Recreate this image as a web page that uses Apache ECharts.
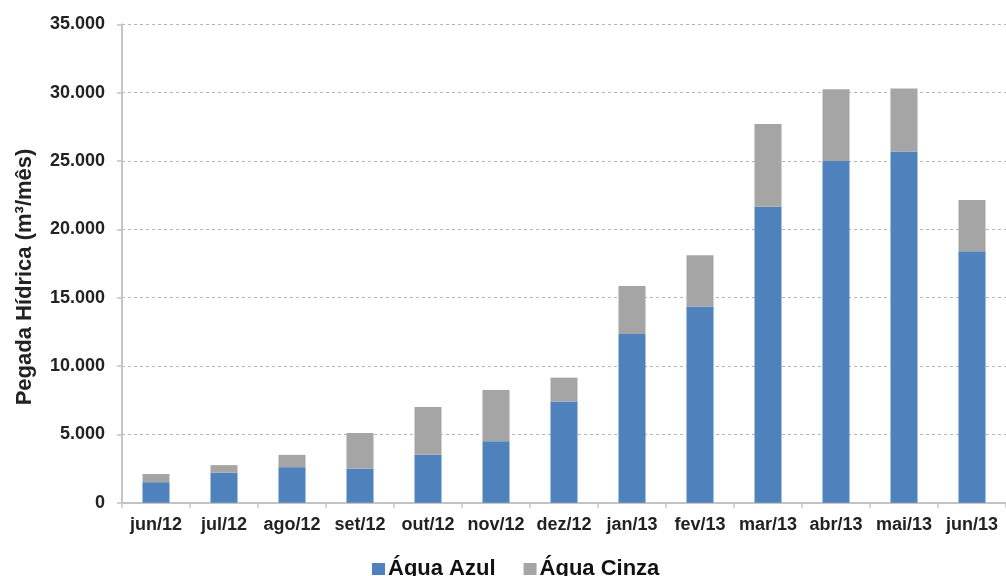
<!DOCTYPE html>
<html>
<head>
<meta charset="utf-8">
<script src="https://cdn.jsdelivr.net/npm/echarts@6/dist/echarts.min.js"></script>
<style>
  html, body { margin: 0; padding: 0; background: #ffffff; }
  #chart { width: 1006px; height: 576px; }
</style>
</head>
<body>
<div id="chart"></div>
<script>
// Monthly water footprint, June 2012 to June 2013 (m³/month)
const months = ['jun/12', 'jul/12', 'ago/12', 'set/12', 'out/12', 'nov/12', 'dez/12',
                'jan/13', 'fev/13', 'mar/13', 'abr/13', 'mai/13', 'jun/13'];
const aguaAzul  = [1500, 2200, 2600, 2500, 3500, 4500, 7400, 12350, 14350, 21650, 25000, 25700, 18400];
const aguaCinza = [600, 550, 900, 2600, 3500, 3750, 1750, 3500, 3750, 6050, 5250, 4600, 3750];
const seriesNames = ['Água Azul', 'Água Cinza'];
const yTitle = 'Pegada Hídrica (m³/mês)';

const FONT = '"Liberation Sans", Arial, sans-serif';
const TEXT = '#222222';

function thousands(v) {
  return String(v).replace(/\B(?=(\d{3})+(?!\d))/g, '.');
}

const chart = echarts.init(document.getElementById('chart'), null, { renderer: 'canvas' });

chart.setOption({
  backgroundColor: '#ffffff',
  animation: false,
  textStyle: { fontFamily: FONT },
  grid: { left: 122, right: -3, top: 24.3, bottom: 73.3, containLabel: false },
  legend: {
    data: seriesNames,
    left: 367,
    top: 553,
    itemWidth: 13,
    itemHeight: 12,
    itemGap: 28,
    icon: 'rect',
    textStyle: { fontFamily: FONT, fontSize: 22, fontWeight: 'bold', color: '#111111', padding: [0, 0, 0, -2] }
  },
  xAxis: {
    type: 'category',
    data: months,
    axisLine: { show: true, lineStyle: { color: '#c4c4c4', width: 2 } },
    axisTick: { show: true, alignWithLabel: false, length: 5, lineStyle: { color: '#c4c4c4', width: 1.5 } },
    axisLabel: { fontFamily: FONT, fontSize: 18, fontWeight: 'bold', color: TEXT, margin: 13, interval: 0 },
    splitLine: { show: false }
  },
  yAxis: {
    type: 'value',
    min: 0,
    max: 35000,
    interval: 5000,
    name: yTitle,
    nameLocation: 'middle',
    nameRotate: 90,
    nameGap: 86,
    nameTextStyle: { fontFamily: FONT, fontSize: 22, fontWeight: 'bold', color: TEXT, padding: [0, 27, 0, 0] },
    axisLine: { show: true, lineStyle: { color: '#c4c4c4', width: 2 } },
    axisTick: { show: true, length: 5, lineStyle: { color: '#c4c4c4', width: 1.5 } },
    axisLabel: { fontFamily: FONT, fontSize: 18, fontWeight: 'bold', color: TEXT, margin: 17, formatter: thousands },
    splitLine: { show: true, lineStyle: { color: '#b5b5b5', width: 1, type: [3, 3] } }
  },
  series: [
    {
      name: seriesNames[0],
      type: 'bar',
      stack: 'total',
      data: aguaAzul,
      barWidth: 27,
      itemStyle: { color: '#4f81bd' }
    },
    {
      name: seriesNames[1],
      type: 'bar',
      stack: 'total',
      data: aguaCinza,
      barWidth: 27,
      itemStyle: { color: '#a5a5a5' }
    }
  ]
});
</script>
</body>
</html>
